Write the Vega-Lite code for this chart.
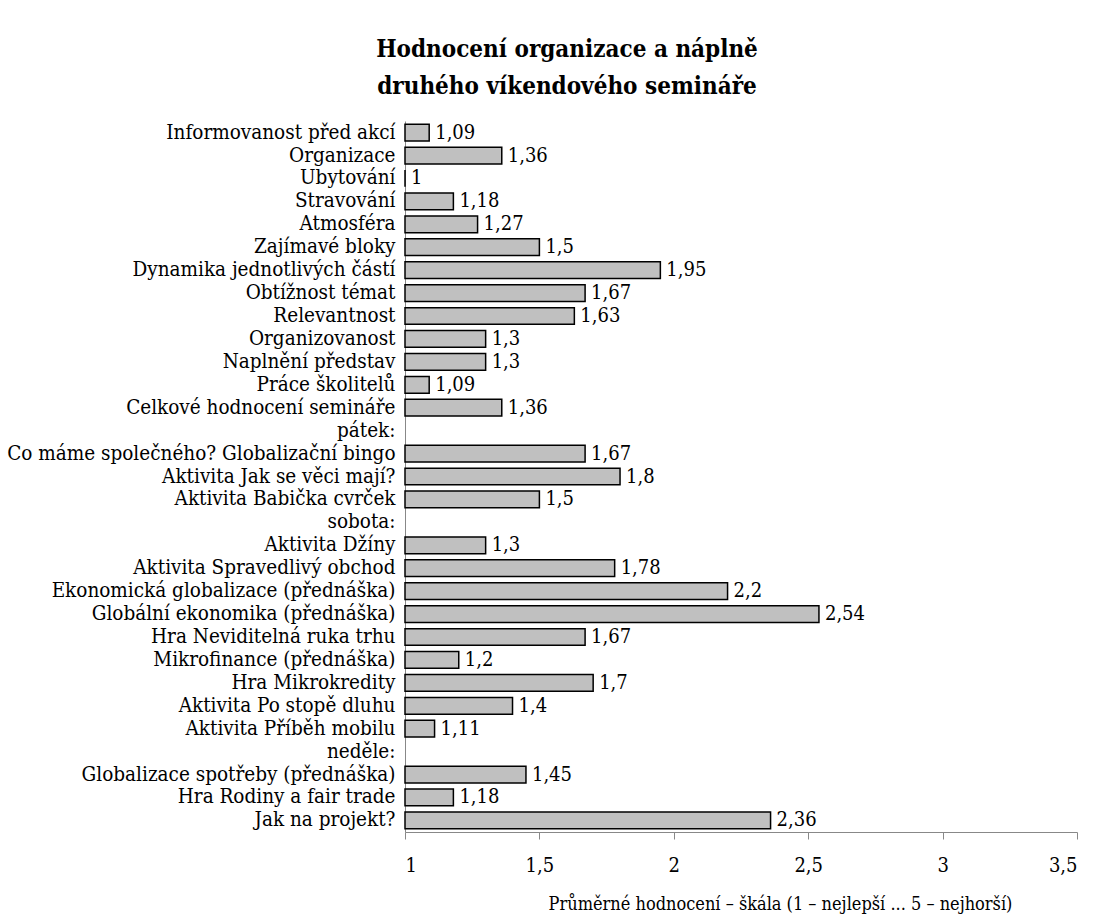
{
  "$schema": "https://vega.github.io/schema/vega-lite/v6.json",
  "autosize": "none",
  "width": 672,
  "height": 711,
  "padding": {"left": 405, "top": 121, "right": 32, "bottom": 85},
  "background": "white",
  "config": {
    "locale": {"number": {"decimal": ",", "thousands": " ", "grouping": [3], "currency": ["", " Kč"]}},
    "view": {"stroke": null},
    "font": "DejaVu Serif Condensed",
    "axis": {"grid": false, "labelFont": "DejaVu Serif Condensed", "titleFont": "DejaVu Serif Condensed", "labelColor": "#000000", "titleColor": "#000000", "domainColor": "#888888", "tickColor": "#888888"}
  },
  "title": {
    "text": ["Hodnocení organizace a náplně", "druhého víkendového semináře"],
    "font": "DejaVu Serif Condensed",
    "fontSize": 24,
    "fontWeight": "bold",
    "color": "#000000",
    "anchor": "middle",
    "frame": "group",
    "dx": -174,
    "lineHeight": 37,
    "offset": 22
  },
  "data": {
    "values": [
      {"polozka": "Informovanost před akcí", "hodnota": 1.09},
      {"polozka": "Organizace", "hodnota": 1.36},
      {"polozka": "Ubytování", "hodnota": 1},
      {"polozka": "Stravování", "hodnota": 1.18},
      {"polozka": "Atmosféra", "hodnota": 1.27},
      {"polozka": "Zajímavé bloky", "hodnota": 1.5},
      {"polozka": "Dynamika jednotlivých částí", "hodnota": 1.95},
      {"polozka": "Obtížnost témat", "hodnota": 1.67},
      {"polozka": "Relevantnost", "hodnota": 1.63},
      {"polozka": "Organizovanost", "hodnota": 1.3},
      {"polozka": "Naplnění představ", "hodnota": 1.3},
      {"polozka": "Práce školitelů", "hodnota": 1.09},
      {"polozka": "Celkové hodnocení semináře", "hodnota": 1.36},
      {"polozka": "pátek:", "hodnota": null},
      {"polozka": "Co máme společného? Globalizační bingo", "hodnota": 1.67},
      {"polozka": "Aktivita Jak se věci mají?", "hodnota": 1.8},
      {"polozka": "Aktivita Babička cvrček", "hodnota": 1.5},
      {"polozka": "sobota:", "hodnota": null},
      {"polozka": "Aktivita Džíny", "hodnota": 1.3},
      {"polozka": "Aktivita Spravedlivý obchod", "hodnota": 1.78},
      {"polozka": "Ekonomická globalizace (přednáška)", "hodnota": 2.2},
      {"polozka": "Globální ekonomika (přednáška)", "hodnota": 2.54},
      {"polozka": "Hra Neviditelná ruka trhu", "hodnota": 1.67},
      {"polozka": "Mikrofinance  (přednáška)", "hodnota": 1.2},
      {"polozka": "Hra Mikrokredity", "hodnota": 1.7},
      {"polozka": "Aktivita Po stopě dluhu", "hodnota": 1.4},
      {"polozka": "Aktivita Příběh mobilu", "hodnota": 1.11},
      {"polozka": "neděle:", "hodnota": null},
      {"polozka": "Globalizace spotřeby (přednáška)", "hodnota": 1.45},
      {"polozka": "Hra Rodiny a fair trade", "hodnota": 1.18},
      {"polozka": "Jak na projekt?", "hodnota": 2.36}
    ]
  },
  "encoding": {
    "y": {
      "field": "polozka",
      "type": "nominal",
      "scale": {
        "domain": ["Informovanost před akcí", "Organizace", "Ubytování", "Stravování", "Atmosféra", "Zajímavé bloky", "Dynamika jednotlivých částí", "Obtížnost témat", "Relevantnost", "Organizovanost", "Naplnění představ", "Práce školitelů", "Celkové hodnocení semináře", "pátek:", "Co máme společného? Globalizační bingo", "Aktivita Jak se věci mají?", "Aktivita Babička cvrček", "sobota:", "Aktivita Džíny", "Aktivita Spravedlivý obchod", "Ekonomická globalizace (přednáška)", "Globální ekonomika (přednáška)", "Hra Neviditelná ruka trhu", "Mikrofinance  (přednáška)", "Hra Mikrokredity", "Aktivita Po stopě dluhu", "Aktivita Příběh mobilu", "neděle:", "Globalizace spotřeby (přednáška)", "Hra Rodiny a fair trade", "Jak na projekt?"],
        "paddingInner": 0.27,
        "paddingOuter": 0.14
      },
      "axis": {"title": null, "ticks": false, "labelFontSize": 20.5, "labelPadding": 10, "labelLimit": 420, "domainColor": "#888888"}
    }
  },
  "layer": [
    {
      "mark": {"type": "bar", "fill": "#c0c0c0", "stroke": "#000000", "strokeWidth": 1.5},
      "encoding": {
        "x": {
          "field": "hodnota",
          "type": "quantitative",
          "scale": {"domain": [1, 3.5], "zero": false, "nice": false},
          "axis": {
            "title": "Průměrné hodnocení – škála (1 – nejlepší ... 5 – nejhorší)",
            "titleFontSize": 18,
            "titleFontWeight": "normal",
            "titlePadding": 20,
            "titleX": 375,
            "titleAlign": "center",
            "labelFontSize": 20,
            "labelPadding": 16,
            "tickSize": 7,
            "values": [1, 1.5, 2, 2.5, 3, 3.5],
            "format": ".1~f"
          }
        },
        "x2": {"datum": 1}
      }
    },
    {
      "mark": {"type": "text", "align": "left", "dx": 6, "fontSize": 20, "color": "#000000", "baseline": "middle"},
      "encoding": {
        "x": {"field": "hodnota", "type": "quantitative"},
        "text": {"field": "hodnota", "type": "quantitative", "format": ".3~r"}
      }
    }
  ]
}
